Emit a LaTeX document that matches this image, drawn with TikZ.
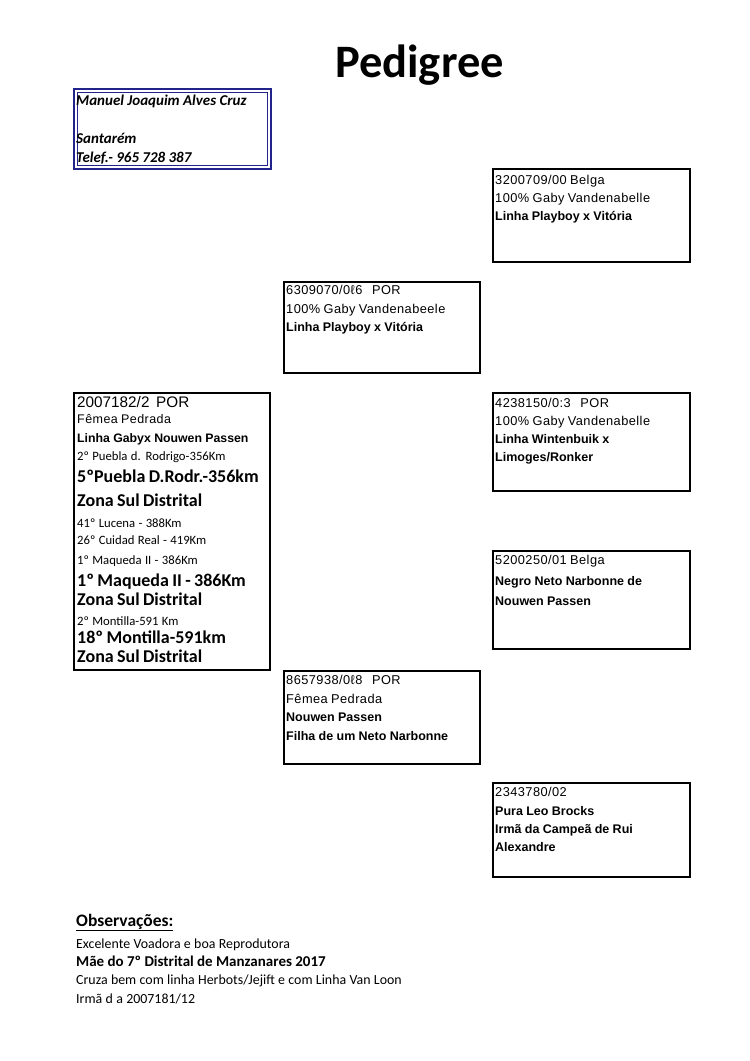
\documentclass[tikz,border=0pt]{standalone}
\usepackage{fontspec}
\setmainfont{Carlito}
\newfontfamily\arialfont{Liberation Sans}
\newfontfamily\arialwide[LetterSpace=3.5]{Liberation Sans}
\setlength\parindent{0pt}
\setlength\parskip{0pt}
\definecolor{ownerblue}{RGB}{35,35,140}
% one line of text: size, distance from the line before, text
\newcommand\pline[3]{{\fontsize{#1}{#2}\selectfont #3\par}}
\newcommand\topstrut{\rule{0pt}{0.8em}}

\begin{document}
\begin{tikzpicture}[x=1pt,y=-1pt,
    pbox/.style={draw,line width=2pt,anchor=north west,inner sep=0pt},
    ptext/.style={anchor=north west,inner sep=0pt,text width=190pt,align=left}]
  \useasboundingbox (0,0) rectangle (750,1061);

  % Title
  \node[anchor=base,inner sep=0pt,font=\bfseries\fontsize{46.5}{50}\selectfont] (title) at (419.5,77) {Pedigree};

  % Owner
  \node[pbox,draw=ownerblue,minimum width=197pt,minimum height=80pt] (owner) at (73,88) {};
  \node[draw=ownerblue,line width=0.8pt,inner sep=0pt,minimum width=190pt,minimum height=73pt] (ownerin) at (owner.center) {};
  \node[ptext,font=\bfseries\itshape] (ownertext) at (76,93) {%
    \pline{15}{19}{\topstrut Manuel Joaquim Alves Cruz}
    \pline{15}{38}{Santarém}
    \pline{15}{19}{Telef.- 965 728 387}};

  % Pigeon
  \node[pbox,minimum width=196pt,minimum height=277pt] (pigeon) at (73,392) {};
  \node[ptext] (pigeontext) at (77,394.8) {%
    \pline{15.3}{18}{\arialfont\topstrut 2007182/2\ \ POR}
    \pline{12.5}{16}{\arialwide Fêmea Pedrada}
    \pline{12.3}{19}{\arialfont\bfseries Linha Gabyx Nouwen Passen}
    \pline{12.7}{18}{2º Puebla d. Rodrigo-356Km}
    \pline{18}{22}{\bfseries 5ºPuebla D.Rodr.-356km}
    \pline{18}{24}{\bfseries Zona Sul Distrital}
    \pline{12.7}{21}{41º Lucena - 388Km}
    \pline{12.7}{17}{26º Cuidad Real - 419Km}
    \pline{12.7}{20}{1º Maqueda II - 386Km}
    \pline{18}{22}{\bfseries 1º Maqueda II - 386Km}
    \pline{18}{19}{\bfseries Zona Sul Distrital}
    \pline{12.7}{20}{2º Montilla-591 Km}
    \pline{18}{18}{\bfseries 18º Montilla-591km}
    \pline{18}{19}{\bfseries Zona Sul Distrital}};

  % Sire
  \node[pbox,minimum width=196pt,minimum height=91pt] (sire) at (283,281) {};
  \node[ptext,font=\arialwide] (siretext) at (286,284.5) {%
    \pline{12.8}{18.5}{\topstrut 6309070/0ℓ6\hspace{0.75em}POR}
    \pline{12.8}{18.5}{100\% Gaby Vandenabeele}
    \pline{12.5}{18.5}{\arialfont\bfseries Linha Playboy x Vitória}};

  % Dam
  \node[pbox,minimum width=196pt,minimum height=93pt] (dam) at (283,670) {};
  \node[ptext,font=\arialwide] (damtext) at (286,674.5) {%
    \pline{12.8}{18.5}{\topstrut 8657938/0ℓ8\hspace{0.75em}POR}
    \pline{12.8}{18.5}{Fêmea Pedrada}
    \pline{12.5}{18.5}{\arialfont\bfseries Nouwen Passen}
    \pline{12.5}{18.5}{\arialfont\bfseries Filha de um Neto Narbonne}};

  % Grandparents
  \node[pbox,minimum width=197pt,minimum height=93pt] (ss) at (492,168) {};
  \node[ptext,font=\arialwide] (sstext) at (495,174) {%
    \pline{12.8}{18}{\topstrut 3200709/00 Belga}
    \pline{12.8}{18}{100\% Gaby Vandenabelle}
    \pline{12.5}{18}{\arialfont\bfseries Linha Playboy x Vitória}};

  \node[pbox,minimum width=197pt,minimum height=98pt] (sd) at (492,392) {};
  \node[ptext,font=\arialwide] (sdtext) at (495,397.5) {%
    \pline{12.8}{18}{\topstrut 4238150/0:3\hspace{0.75em}POR}
    \pline{12.8}{18}{100\% Gaby Vandenabelle}
    \pline{12.5}{18}{\arialfont\bfseries Linha Wintenbuik x}
    \pline{12.5}{18}{\arialfont\bfseries Limoges/Ronker}};

  \node[pbox,minimum width=197pt,minimum height=98pt] (ds) at (492,550) {};
  \node[ptext,font=\arialwide] (dstext) at (495,554.5) {%
    \pline{12.8}{20.5}{\topstrut 5200250/01 Belga}
    \pline{12.5}{20.5}{\arialfont\bfseries Negro Neto Narbonne de}
    \pline{12.5}{20.5}{\arialfont\bfseries Nouwen Passen}};

  \node[pbox,minimum width=197pt,minimum height=94pt] (dd) at (492,782) {};
  \node[ptext,font=\arialwide] (ddtext) at (495,786.5) {%
    \pline{12.8}{18.3}{\topstrut 2343780/02}
    \pline{12.5}{18.3}{\arialfont\bfseries Pura Leo Brocks}
    \pline{12.5}{18.3}{\arialfont\bfseries Irmã da Campeã de Rui}
    \pline{12.5}{18.3}{\arialfont\bfseries Alexandre}};

  % Notes
  \node[ptext,text width=400pt] (notes) at (76,912) {%
    \pline{17.5}{19}{\bfseries\topstrut\underline{Observações:}}
    \pline{13.9}{22}{Excelente Voadora e boa Reprodutora}
    \pline{15}{18}{\bfseries Mãe do 7º Distrital de Manzanares 2017}
    \pline{13.9}{18}{Cruza bem com linha Herbots/Jejift e com Linha Van Loon}
    \pline{13.9}{19}{Irmã d a 2007181/12}};
\end{tikzpicture}
\end{document}
